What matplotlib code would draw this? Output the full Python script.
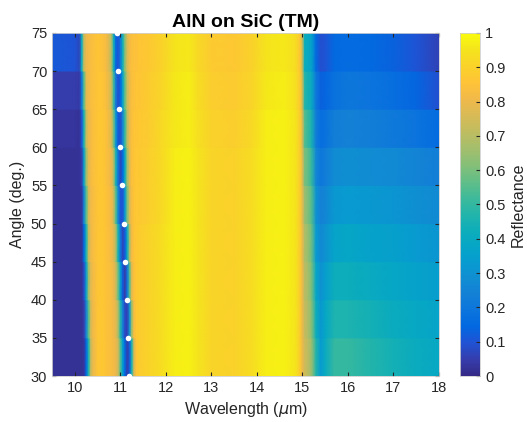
import numpy as np
import matplotlib
matplotlib.use("Agg")
import matplotlib.pyplot as plt
from matplotlib.colors import LinearSegmentedColormap

plt.rcParams["font.family"] = ["Liberation Sans", "DejaVu Sans"]

# wavelength samples (um) shared by every angle row
wavelength = [9.5, 10.0, 10.1, 10.15, 10.2, 10.25, 10.3, 10.35, 10.4, 10.5,
              10.6, 10.7, 10.8, 10.85, 10.9, 10.95, 11.0, 11.05, 11.1, 11.15,
              11.2, 11.25, 11.3, 11.35, 11.4, 11.6, 11.9, 12.2, 12.5, 12.7,
              13.0, 13.5, 13.9, 14.2, 14.6, 14.85, 14.95, 15.0, 15.05, 15.1,
              15.2, 15.3, 15.4, 15.5, 15.7, 16.0, 16.5, 17.0, 17.5, 18.0]

# lower edge of each angle band (deg.)
angle_rows = [30, 35, 40, 45, 50, 55, 60, 65, 70]

# reflectance for each band
refl_30 = [0.02, 0.02, 0.02, 0.02, 0.03, 0.15, 0.45, 0.72, 0.80, 0.86,
           0.87, 0.85, 0.83, 0.82, 0.80, 0.74, 0.55, 0.35, 0.15, 0.05,
           0.12, 0.45, 0.76, 0.86, 0.88, 0.90, 0.93, 0.97, 0.98, 0.95,
           0.91, 0.90, 0.93, 0.97, 0.98, 0.95, 0.88, 0.80, 0.74, 0.72,
           0.65, 0.47, 0.33, 0.40, 0.50, 0.50, 0.47, 0.44, 0.41, 0.39]
refl_35 = [0.02, 0.02, 0.02, 0.02, 0.05, 0.25, 0.55, 0.75, 0.81, 0.86,
           0.87, 0.85, 0.83, 0.81, 0.78, 0.68, 0.48, 0.25, 0.08, 0.06,
           0.30, 0.65, 0.83, 0.87, 0.88, 0.90, 0.93, 0.97, 0.98, 0.95,
           0.91, 0.90, 0.93, 0.97, 0.98, 0.95, 0.88, 0.80, 0.72, 0.70,
           0.62, 0.42, 0.32, 0.38, 0.46, 0.46, 0.44, 0.41, 0.39, 0.37]
refl_40 = [0.02, 0.02, 0.02, 0.02, 0.08, 0.35, 0.65, 0.78, 0.82, 0.86,
           0.87, 0.85, 0.83, 0.80, 0.74, 0.58, 0.35, 0.12, 0.05, 0.20,
           0.55, 0.78, 0.85, 0.87, 0.88, 0.90, 0.93, 0.97, 0.98, 0.95,
           0.91, 0.90, 0.93, 0.97, 0.98, 0.95, 0.88, 0.80, 0.70, 0.68,
           0.60, 0.38, 0.30, 0.34, 0.42, 0.42, 0.40, 0.38, 0.36, 0.34]
refl_45 = [0.02, 0.02, 0.02, 0.02, 0.15, 0.45, 0.72, 0.80, 0.83, 0.86,
           0.87, 0.85, 0.82, 0.78, 0.68, 0.45, 0.20, 0.07, 0.12, 0.40,
           0.68, 0.82, 0.86, 0.87, 0.88, 0.90, 0.93, 0.97, 0.98, 0.95,
           0.91, 0.90, 0.93, 0.97, 0.98, 0.95, 0.88, 0.79, 0.68, 0.66,
           0.58, 0.33, 0.27, 0.30, 0.37, 0.38, 0.36, 0.35, 0.33, 0.31]
refl_50 = [0.02, 0.02, 0.02, 0.03, 0.25, 0.55, 0.75, 0.81, 0.83, 0.86,
           0.87, 0.85, 0.81, 0.74, 0.55, 0.28, 0.10, 0.10, 0.32, 0.60,
           0.76, 0.83, 0.86, 0.87, 0.87, 0.89, 0.92, 0.97, 0.98, 0.95,
           0.91, 0.90, 0.93, 0.97, 0.98, 0.95, 0.88, 0.78, 0.65, 0.62,
           0.55, 0.30, 0.24, 0.26, 0.32, 0.33, 0.32, 0.31, 0.29, 0.27]
refl_55 = [0.02, 0.02, 0.02, 0.05, 0.35, 0.65, 0.78, 0.82, 0.84, 0.86,
           0.87, 0.84, 0.80, 0.70, 0.45, 0.20, 0.07, 0.15, 0.40, 0.65,
           0.78, 0.84, 0.86, 0.87, 0.87, 0.89, 0.92, 0.97, 0.98, 0.95,
           0.91, 0.90, 0.93, 0.97, 0.98, 0.95, 0.88, 0.77, 0.60, 0.58,
           0.50, 0.26, 0.20, 0.22, 0.28, 0.29, 0.28, 0.27, 0.25, 0.23]
refl_60 = [0.03, 0.03, 0.02, 0.10, 0.45, 0.72, 0.80, 0.82, 0.84, 0.86,
           0.87, 0.84, 0.77, 0.60, 0.32, 0.12, 0.09, 0.25, 0.50, 0.70,
           0.80, 0.84, 0.86, 0.86, 0.87, 0.88, 0.92, 0.96, 0.97, 0.94,
           0.90, 0.89, 0.92, 0.97, 0.98, 0.95, 0.88, 0.76, 0.55, 0.52,
           0.45, 0.22, 0.17, 0.18, 0.23, 0.24, 0.23, 0.21, 0.19, 0.16]
refl_65 = [0.05, 0.05, 0.04, 0.20, 0.55, 0.78, 0.81, 0.83, 0.84, 0.86,
           0.86, 0.83, 0.74, 0.52, 0.22, 0.09, 0.14, 0.35, 0.57, 0.73,
           0.80, 0.84, 0.85, 0.86, 0.86, 0.88, 0.91, 0.96, 0.97, 0.93,
           0.89, 0.88, 0.91, 0.96, 0.97, 0.94, 0.87, 0.74, 0.48, 0.45,
           0.40, 0.20, 0.13, 0.14, 0.18, 0.20, 0.19, 0.17, 0.14, 0.09]
refl_70 = [0.11, 0.10, 0.07, 0.40, 0.72, 0.80, 0.82, 0.83, 0.84, 0.86,
           0.85, 0.82, 0.70, 0.45, 0.15, 0.10, 0.20, 0.42, 0.62, 0.76,
           0.82, 0.84, 0.85, 0.85, 0.86, 0.87, 0.90, 0.95, 0.96, 0.92,
           0.88, 0.87, 0.90, 0.95, 0.96, 0.93, 0.86, 0.72, 0.42, 0.40,
           0.36, 0.15, 0.09, 0.10, 0.15, 0.16, 0.15, 0.13, 0.10, 0.06]

# reflectance minimum near 11 um (white dots)
dot_angle = [30, 35, 40, 45, 50, 55, 60, 65, 70, 75]
dot_wavelength = [11.18, 11.16, 11.14, 11.11, 11.07, 11.03, 11.00, 10.97, 10.94, 10.92]

# parula-like colormap
parula_colors = [
    (0.2081, 0.1663, 0.5292), (0.2081, 0.2386, 0.6771), (0.1253, 0.3242, 0.8303),
    (0.0060, 0.4086, 0.8828), (0.0498, 0.4586, 0.8641), (0.0779, 0.5040, 0.8384),
    (0.0641, 0.5570, 0.8240), (0.0265, 0.6137, 0.8135), (0.0228, 0.6535, 0.7768),
    (0.0590, 0.6838, 0.7254), (0.1453, 0.7098, 0.6646), (0.2586, 0.7317, 0.5954),
    (0.3953, 0.7459, 0.5244), (0.5300, 0.7491, 0.4661), (0.6473, 0.7456, 0.4188),
    (0.7525, 0.7384, 0.3768), (0.8507, 0.7299, 0.3360), (0.9450, 0.7261, 0.2886),
    (0.9990, 0.7653, 0.2164), (0.9789, 0.8271, 0.1633), (0.9589, 0.8949, 0.1132),
    (0.9763, 0.9831, 0.0538)]
parula = LinearSegmentedColormap.from_list("parula", parula_colors)

rows = [refl_30, refl_35, refl_40, refl_45, refl_50, refl_55, refl_60, refl_65, refl_70]

fig = plt.figure(figsize=(5.27, 4.22), dpi=100)
ax = fig.add_axes([0.099, 0.109, 0.734, 0.813])
cax = fig.add_axes([0.873, 0.109, 0.038, 0.813])

wl = np.array(wavelength)
for a, r in zip(angle_rows, rows):
    X, Y = np.meshgrid(wl, [a, a + 5])
    C = np.vstack([r, r])
    mesh = ax.pcolormesh(X, Y, C, shading="gouraud", cmap=parula, vmin=0, vmax=1)

ax.plot(dot_wavelength, dot_angle, "o", color="white", markersize=4,
        markeredgewidth=0, clip_on=False, zorder=5)

ax.set_xlim(9.5, 18)
ax.set_ylim(30, 75)
ax.set_xticks(range(10, 19))
ax.set_yticks(range(30, 80, 5))
ax.tick_params(direction="in", length=3, labelsize=10.5, colors="#262626",
               top=True, right=True)
for s in ax.spines.values():
    s.set_color("#d0d0d0")
    s.set_linewidth(0.6)
ax.set_xlabel("Wavelength ($\\mu$m)", fontsize=11.5, color="#262626")
ax.set_ylabel("Angle (deg.)", fontsize=11.5, color="#262626")
ax.set_title("AlN on SiC (TM)", fontsize=14, fontweight="bold", pad=4)

cb = fig.colorbar(mesh, cax=cax)
cb.set_ticks(np.arange(0, 1.01, 0.1))
cb.set_ticklabels(["0", "0.1", "0.2", "0.3", "0.4", "0.5", "0.6", "0.7", "0.8", "0.9", "1"])
cb.ax.tick_params(direction="in", length=3, labelsize=10.5, colors="#262626")
cb.outline.set_edgecolor("#d0d0d0")
cb.outline.set_linewidth(0.6)
cb.set_label("Reflectance", fontsize=11.5, color="#262626")

fig.savefig("out.png", dpi=100)
